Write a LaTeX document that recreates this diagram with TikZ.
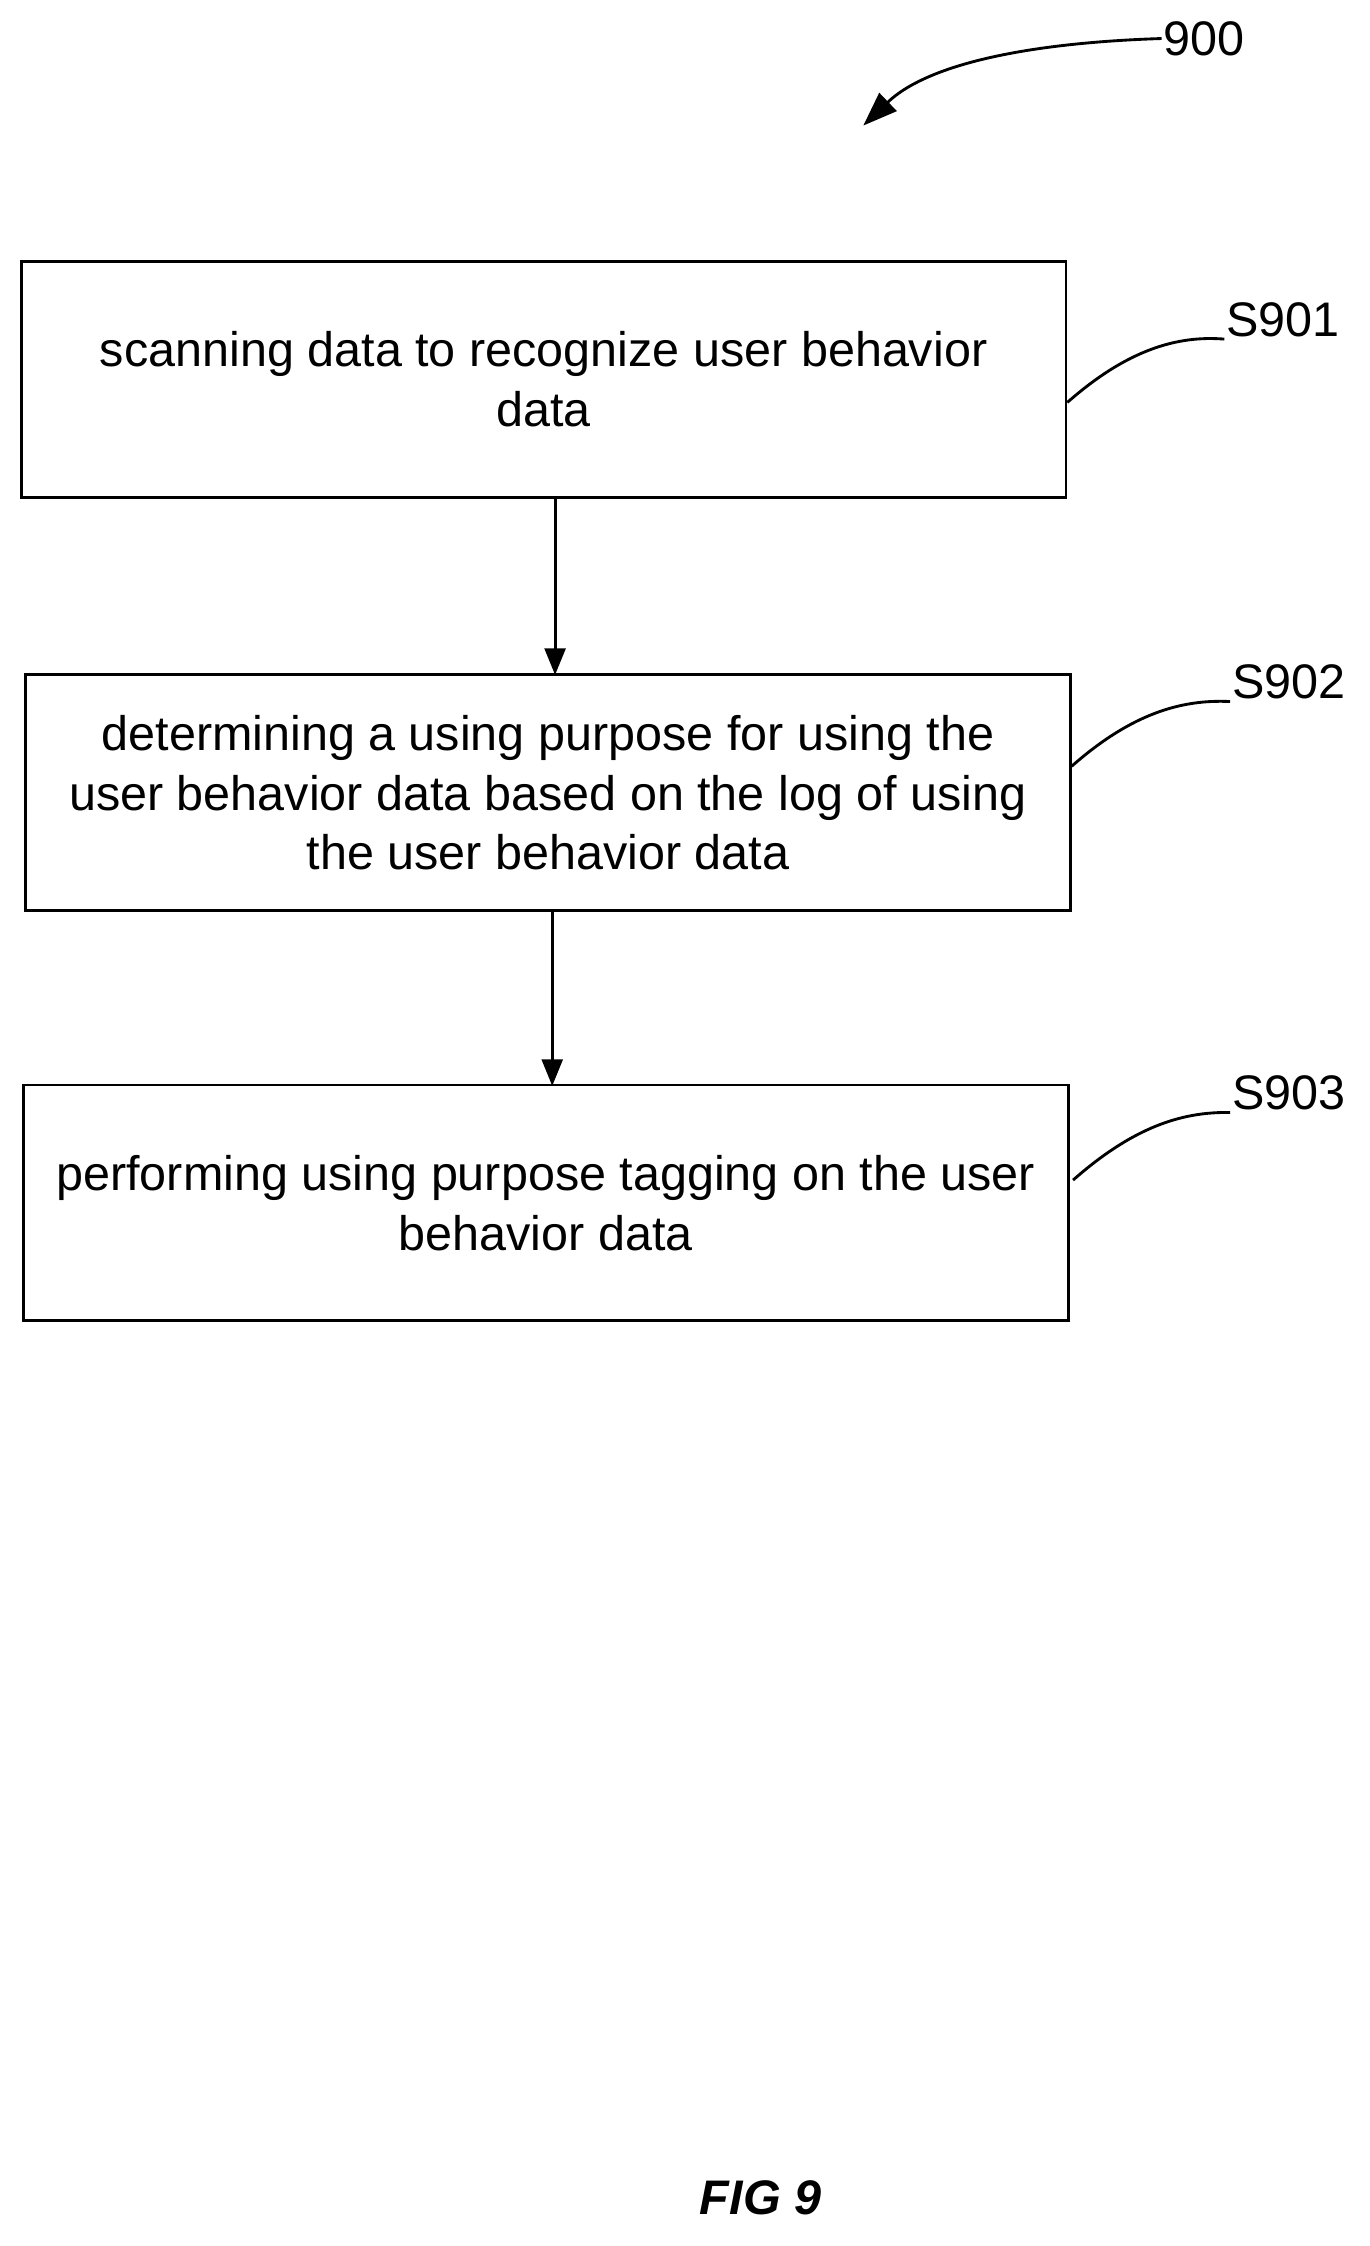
\documentclass[tikz,border=0pt]{standalone}
\usepackage{fontspec}
\setmainfont{Liberation Sans}
\usetikzlibrary{arrows.meta}
\begin{document}
\begin{tikzpicture}[x=0.75pt,y=-0.75pt,
 box/.style={draw,line width=1.5pt,minimum width=549pt,minimum height=124pt,align=center,inner sep=0pt,font=\fontsize{25.5}{31.5}\selectfont},
 lbl/.style={font=\fontsize{25.5}{28}\selectfont,inner sep=1pt},
 arr/.style={line width=1.5pt,-{Triangle[length=14pt,width=11pt]}},
 lead/.style={line width=1.5pt}]
\useasboundingbox (0,0) rectangle (960,1574);
\node[box] (b1) at (381,266) {scanning data to recognize user behavior\\data};
\node[box] (b2) at (384,555.5) {determining a using purpose for using the\\user behavior data based on the log of using\\the user behavior data};
\node[box] (b3) at (382.5,843) {performing using purpose tagging on the user\\behavior data};
\draw[arr] (389,349) -- (389,473);
\draw[arr] (387,638) -- (387,761);
\node[lbl,anchor=west] (s1) at (858,224) {S901};
\node[lbl,anchor=west] (s2) at (862,478) {S902};
\node[lbl,anchor=west] (s3) at (862,766) {S903};
\draw[lead] (748,282) .. controls (790,245) and (825,235) .. (s1.south west);
\draw[lead] (751,537) .. controls (793,500) and (828,490) .. (s2.south west);
\draw[lead] (752,827) .. controls (794,790) and (828,779) .. (s3.south west);
\node[lbl,anchor=west] (n900) at (814,27) {900};
\draw[line width=1.5pt,-{Triangle[length=18pt,width=13pt]}] (n900.west) .. controls (720,30) and (650,45) .. (605,88);
\node[font=\fontsize{25.5}{28}\selectfont\bfseries\itshape] (fig) at (533,1540) {FIG 9};
\end{tikzpicture}
\end{document}
